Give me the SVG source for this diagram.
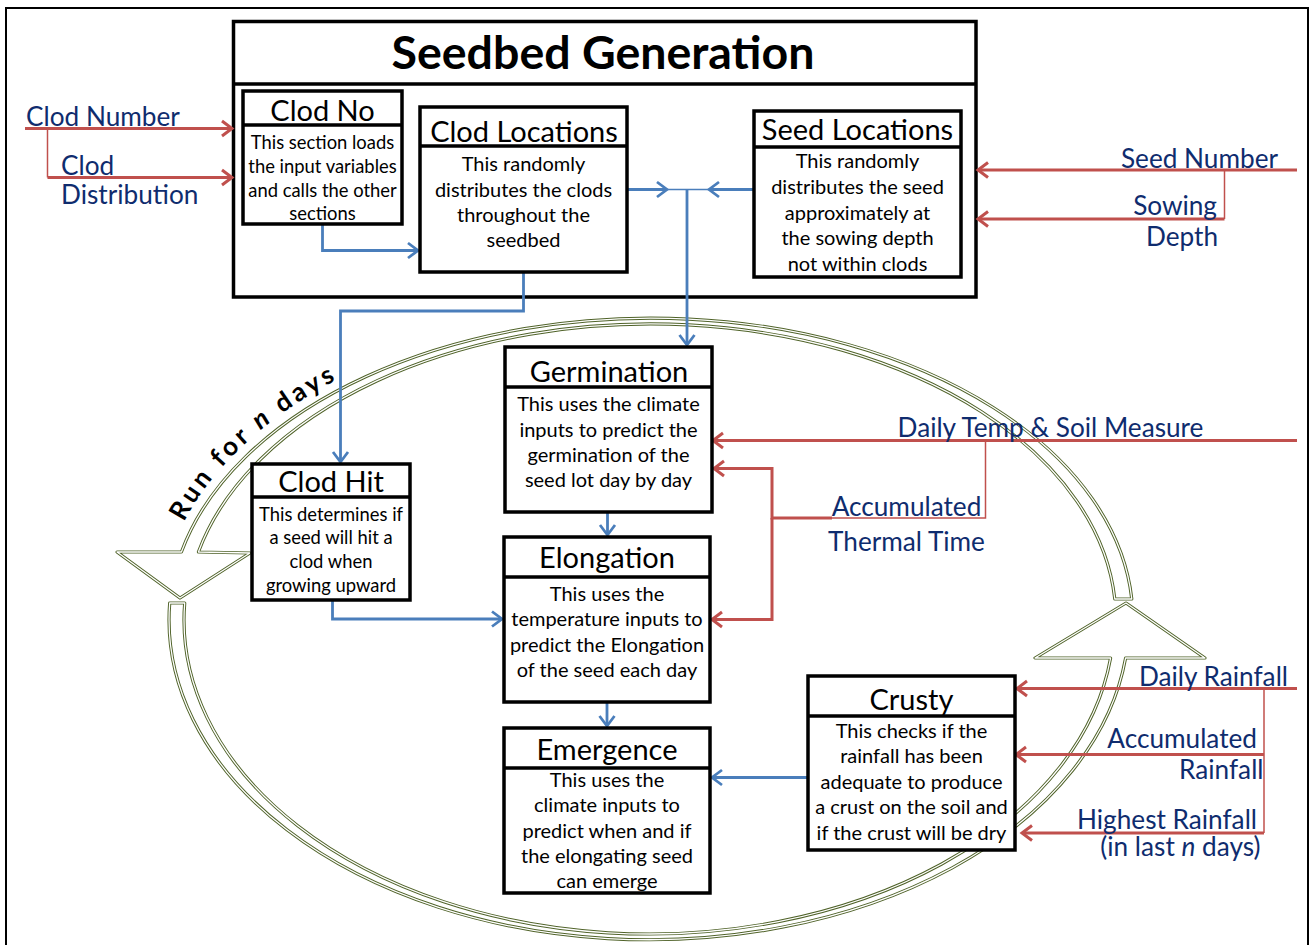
<svg xmlns="http://www.w3.org/2000/svg" xmlns:xlink="http://www.w3.org/1999/xlink" width="1312" height="945" viewBox="0 0 1312 945">
<style>
.frame{fill:#fff;stroke:#000;stroke-width:2}
.box{fill:#fff;stroke:#000;stroke-width:3.5}
.div{stroke:#000;stroke-width:3.5}
.t{font-family:Lato,"Liberation Sans",sans-serif;fill:#000;text-anchor:middle}
.title{font-size:29px}
.body{font-size:20px}
.small{font-size:18.4px}
.lbl{font-family:Lato,"Liberation Sans",sans-serif;font-size:26.2px;fill:#0f2c6e}
.blue{stroke:#4a7ebb;stroke-width:2.8;fill:none}
.bluethin{stroke:#4a7ebb;stroke-width:1.5;fill:none}
.red{stroke:#c0504d;stroke-width:3;fill:none}
.redthin{stroke:#c0504d;stroke-width:1.5;fill:none}
.ring{fill:none;stroke:#4f6228;stroke-width:3.2;stroke-linejoin:round}
.ringin{fill:none;stroke:#fff;stroke-width:1.3;stroke-linejoin:round}
</style>
<defs>
<marker id="ab" viewBox="-13 -10 16 20" refX="0" refY="0" markerWidth="16" markerHeight="20" markerUnits="userSpaceOnUse" orient="auto">
<path d="M-10,-7.5 L0,0 L-10,7.5" fill="none" stroke="#4a7ebb" stroke-width="2.8"/>
</marker>
<marker id="ar" viewBox="-13 -10 16 20" refX="0" refY="0" markerWidth="16" markerHeight="20" markerUnits="userSpaceOnUse" orient="auto">
<path d="M-10,-7.5 L0,0 L-10,7.5" fill="none" stroke="#c0504d" stroke-width="3"/>
</marker>
<path id="runpath" d="M159,620 A492,312 0 0 1 651,308"/>
</defs>

<rect class="frame" x="6" y="8" width="1302" height="950"/>

<g id="cycle-arrows">
<path class="ring" d="M1131.8,599 A482,302 0 0 0 181.4,552 L117,552 L180,598 L250,553 L198.4,552 A465,296 0 0 1 1114.8,599 Z"/>
<path class="ringin" d="M1131.8,599 A482,302 0 0 0 181.4,552 L117,552 L180,598 L250,553 L198.4,552 A465,296 0 0 1 1114.8,599 Z"/>
<path class="ring" d="M169.7,603 A480,320 0 0 0 1125.6,658 L1205,658 L1126,603 L1035,658 L1110.6,658 A465,314 0 0 1 184.7,603 Z"/>
<path class="ringin" d="M169.7,603 A480,320 0 0 0 1125.6,658 L1205,658 L1126,603 L1035,658 L1110.6,658 A465,314 0 0 1 184.7,603 Z"/>
<text font-family="Lato, 'Liberation Sans', sans-serif" font-size="26" font-weight="bold" letter-spacing="3.6" fill="#000"><textPath xlink:href="#runpath" startOffset="102">Run for <tspan font-style="italic">n</tspan> days</textPath></text>
</g>

<g id="seedbed-generation">
<rect class="box" x="233.5" y="21.5" width="742.5" height="275.5"/>
<line class="div" x1="233.5" y1="84" x2="976" y2="84"/>
<text class="t" x="603" y="69" font-size="46.5" font-weight="bold">Seedbed Generation</text>
</g>

<g id="connectors">
<path class="blue" d="M322.5,224 V250.5 H418" marker-end="url(#ab)"/>
<path class="blue" d="M627,189.5 H667" marker-end="url(#ab)"/>
<path class="blue" d="M754,189.5 H709" marker-end="url(#ab)"/>
<path class="bluethin" d="M667,189.5 H709"/>
<path class="blue" d="M687,189.5 V345" marker-end="url(#ab)"/>
<path class="blue" d="M523.5,272 V311 H340.5 V462" marker-end="url(#ab)"/>
<path class="blue" d="M332.5,600 V619 H502" marker-end="url(#ab)"/>
<path class="blue" d="M607.5,512 V535" marker-end="url(#ab)"/>
<path class="blue" d="M607,702 V726" marker-end="url(#ab)"/>
<path class="blue" d="M808,777.5 H712" marker-end="url(#ab)"/>

<path class="red" d="M25,128.5 H232" marker-end="url(#ar)"/>
<path class="redthin" d="M47.5,128.5 V177.5"/>
<path class="red" d="M47.5,177.5 H232" marker-end="url(#ar)"/>

<path class="red" d="M1297,170 H978" marker-end="url(#ar)"/>
<path class="redthin" d="M1224.5,170 V219"/>
<path class="red" d="M1224.5,219 H978" marker-end="url(#ar)"/>

<path class="red" d="M1297,440.5 H713" marker-end="url(#ar)"/>
<path class="redthin" d="M985.5,440.5 V518 H832"/>
<path class="red" d="M832,518 H772 V468.5 H714" marker-end="url(#ar)"/>
<path class="red" d="M772,518 V619.5 H712" marker-end="url(#ar)"/>

<path class="red" d="M1297,688.5 H1017" marker-end="url(#ar)"/>
<path class="redthin" d="M1264,688.5 V833"/>
<path class="red" d="M1264,754.5 H1016" marker-end="url(#ar)"/>
<path class="red" d="M1264,833 H1022" marker-end="url(#ar)"/>
</g>

<g id="clod-no">
<rect class="box" x="243" y="91" width="159" height="133"/>
<line class="div" x1="243" y1="125" x2="402" y2="125"/>
<text class="t title" x="322.5" y="120.5">Clod No</text>
<text class="t small" x="322.5" y="149">This section loads</text>
<text class="t small" x="322.5" y="173">the input variables</text>
<text class="t small" x="322.5" y="197">and calls the other</text>
<text class="t small" x="322.5" y="220">sections</text>
</g>

<g id="clod-locations">
<rect class="box" x="420" y="107" width="207" height="165"/>
<line class="div" x1="420" y1="146" x2="627" y2="146"/>
<text class="t title" x="524" y="141.5">Clod Locations</text>
<text class="t body" x="523.5" y="170.7">This randomly</text>
<text class="t body" x="523.5" y="197">distributes the clods</text>
<text class="t body" x="523.5" y="222">throughout the</text>
<text class="t body" x="523.5" y="247">seedbed</text>
</g>

<g id="seed-locations">
<rect class="box" x="754" y="111" width="207" height="166"/>
<line class="div" x1="754" y1="147" x2="961" y2="147"/>
<text class="t title" x="857.5" y="139.5">Seed Locations</text>
<text class="t body" x="857.5" y="168.3">This randomly</text>
<text class="t body" x="857.5" y="194.3">distributes the seed</text>
<text class="t body" x="857.5" y="219.5">approximately at</text>
<text class="t body" x="857.5" y="245">the sowing depth</text>
<text class="t body" x="857.5" y="270.5">not within clods</text>
</g>

<g id="clod-hit">
<rect class="box" x="252" y="464" width="158" height="136"/>
<line class="div" x1="252" y1="497" x2="410" y2="497"/>
<text class="t title" x="331" y="491.5">Clod Hit</text>
<text class="t small" x="331" y="520.5">This determines if</text>
<text class="t small" x="331" y="544">a seed will hit a</text>
<text class="t small" x="331" y="568">clod when</text>
<text class="t small" x="331" y="591.5">growing upward</text>
</g>

<g id="germination">
<rect class="box" x="505" y="347" width="207" height="165"/>
<line class="div" x1="505" y1="387" x2="712" y2="387"/>
<text class="t title" x="609" y="381.5">Germination</text>
<text class="t body" x="608.5" y="410.5">This uses the climate</text>
<text class="t body" x="608.5" y="436.5">inputs to predict the</text>
<text class="t body" x="608.5" y="461.5">germination of the</text>
<text class="t body" x="608.5" y="487">seed lot day by day</text>
</g>

<g id="elongation">
<rect class="box" x="504" y="537" width="206" height="165"/>
<line class="div" x1="504" y1="577" x2="710" y2="577"/>
<text class="t title" x="607" y="568">Elongation</text>
<text class="t body" x="607" y="601">This uses the</text>
<text class="t body" x="607" y="626">temperature inputs to</text>
<text class="t body" x="607" y="651.5">predict the Elongation</text>
<text class="t body" x="607" y="677">of the seed each day</text>
</g>

<g id="emergence">
<rect class="box" x="504" y="728" width="206" height="165"/>
<line class="div" x1="504" y1="768" x2="710" y2="768"/>
<text class="t title" x="607" y="760">Emergence</text>
<text class="t body" x="607" y="786.5">This uses the</text>
<text class="t body" x="607" y="812">climate inputs to</text>
<text class="t body" x="607" y="837.5">predict when and if</text>
<text class="t body" x="607" y="863">the elongating seed</text>
<text class="t body" x="607" y="888">can emerge</text>
</g>

<g id="crusty">
<rect class="box" x="808" y="676" width="207" height="174"/>
<line class="div" x1="808" y1="716" x2="1015" y2="716"/>
<text class="t title" x="911.5" y="710">Crusty</text>
<text class="t body" x="911.5" y="737.5">This checks if the</text>
<text class="t body" x="911.5" y="763">rainfall has been</text>
<text class="t body" x="911.5" y="788.5">adequate to produce</text>
<text class="t body" x="911.5" y="814">a crust on the soil and</text>
<text class="t body" x="911.5" y="840">if the crust will be dry</text>
</g>

<g id="input-labels">
<text class="lbl" x="26" y="126">Clod Number</text>
<text class="lbl" x="61" y="175">Clod</text>
<text class="lbl" x="61" y="204">Distribution</text>
<text class="lbl" x="1278" y="168" text-anchor="end">Seed Number</text>
<text class="lbl" x="1217" y="215" text-anchor="end">Sowing</text>
<text class="lbl" x="1218" y="246" text-anchor="end">Depth</text>
<text class="lbl" x="1050.5" y="436.5" text-anchor="middle">Daily Temp &amp; Soil Measure</text>
<text class="lbl" x="906.5" y="516" text-anchor="middle">Accumulated</text>
<text class="lbl" x="906.5" y="550.5" text-anchor="middle">Thermal Time</text>
<text class="lbl" x="1288" y="686" text-anchor="end">Daily Rainfall</text>
<text class="lbl" x="1257" y="747.5" text-anchor="end">Accumulated</text>
<text class="lbl" x="1263.5" y="779" text-anchor="end">Rainfall</text>
<text class="lbl" x="1257" y="829" text-anchor="end">Highest Rainfall</text>
<text class="lbl" x="1260.5" y="856" text-anchor="end">(in last <tspan font-style="italic">n</tspan> days)</text>
</g>
</svg>
